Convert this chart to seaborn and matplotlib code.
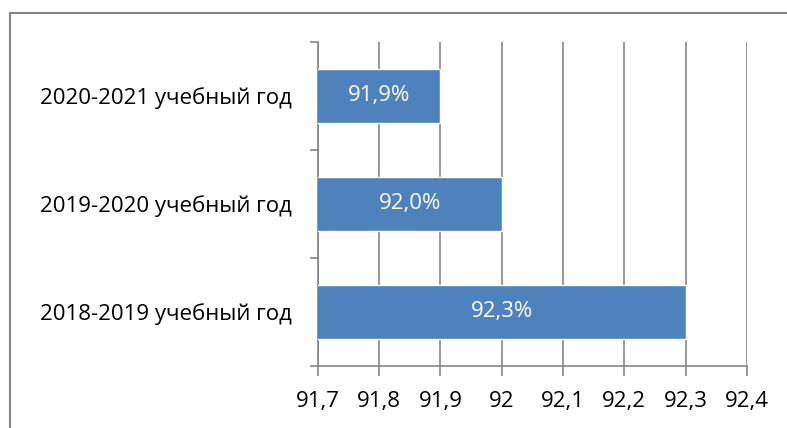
import matplotlib
matplotlib.use("Agg")
import matplotlib.pyplot as plt
import seaborn as sns
import pandas as pd
from matplotlib.patches import Rectangle

# data (top to bottom)
years = ["2020-2021 учебный год", "2019-2020 учебный год", "2018-2019 учебный год"]
values = [91.9, 92.0, 92.3]
x_ticks = [91.7, 91.8, 91.9, 92.0, 92.1, 92.2, 92.3, 92.4]

df = pd.DataFrame({"year": years, "value": values})

sns.set_style("white")
plt.rcParams["font.family"] = ["Open Sans", "DejaVu Sans"]
plt.rcParams["text.color"] = "black"
plt.rcParams["xtick.color"] = "black"
plt.rcParams["ytick.color"] = "black"

fig = plt.figure(figsize=(7.87, 4.28), dpi=100)
ax = fig.add_axes([0.404, 0.145, 0.545, 0.757])

sns.barplot(data=df, x="value", y="year", color="#4F81BD", width=0.5,
            saturation=1, ax=ax, zorder=3)

ax.set_xlim(91.7, 92.4)
ax.set_ylim(2.5, -0.5)
ax.set_xticks(x_ticks)
ax.set_xticklabels([f"{t:g}".replace(".", ",") for t in x_ticks], fontsize=16)
ax.set_xlabel("")
ax.set_ylabel("")
ax.tick_params(axis="y", which="major", length=0, pad=19, labelsize=16,
               labelcolor="black")
ax.set_yticks([-0.5, 0.5, 1.5, 2.5], minor=True)
ax.tick_params(axis="y", which="minor", left=True, length=6, color="#868686",
               width=1.2, direction="out")
ax.tick_params(axis="x", length=7, color="#868686", width=1.2, direction="out",
               pad=11, bottom=True, labelcolor="black")
ax.xaxis.grid(True, color="#868686", linewidth=1.2, zorder=0)
ax.set_axisbelow(True)

for s in ["top", "right"]:
    ax.spines[s].set_visible(False)
for s in ["left", "bottom"]:
    ax.spines[s].set_color("#868686")
    ax.spines[s].set_linewidth(1.2)

# value labels inside bars
for i, v in enumerate(values):
    mid = (91.7 + v) / 2
    ax.text(mid, i, f"{v:.1f}%".replace(".", ","), color="white", fontsize=16,
            ha="center", va="center", zorder=4)

# outer chart frame (cropped on right/bottom)
fig.patches.append(Rectangle((10 / 787, -0.1), 1.2, (428 - 13) / 428 + 0.1,
                             transform=fig.transFigure, fill=False,
                             edgecolor="#868686", linewidth=1.5))

fig.savefig("out.png", dpi=100)
